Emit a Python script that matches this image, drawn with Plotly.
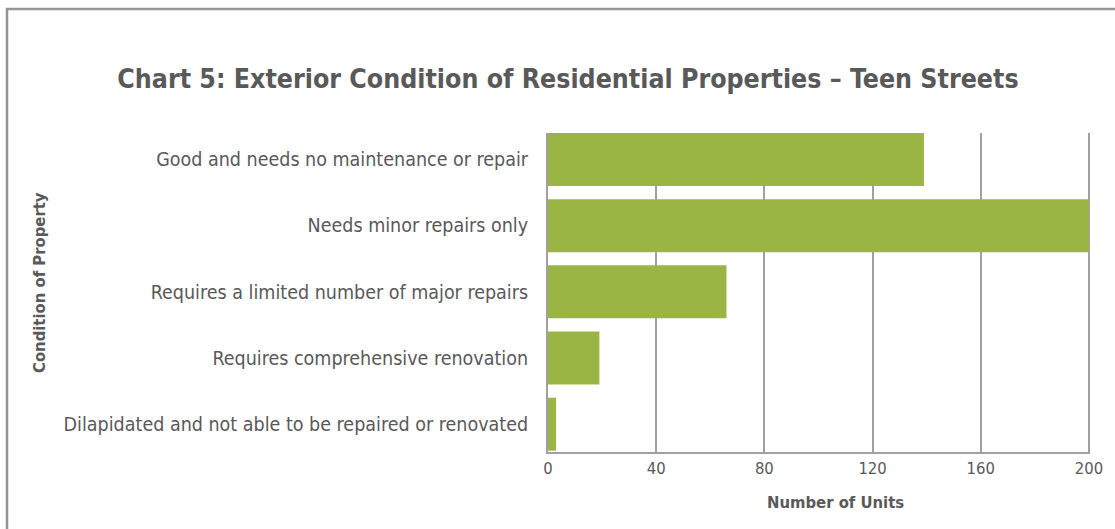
import plotly.graph_objects as go

# condition categories, top to bottom as shown
conditions = [
    "Good and needs no maintenance or repair",
    "Needs minor repairs only",
    "Requires a limited number of major repairs",
    "Requires comprehensive renovation",
    "Dilapidated and not able to be repaired or renovated",
]
units = [139, 200, 66, 19, 3]
x_ticks = [0, 40, 80, 120, 160, 200]

W, H = 1115, 529
green = "#9bb544"
grid = "#a0a0a4"
txt = "#595959"
narrow = "Liberation Sans Narrow, DejaVu Sans Condensed, Arial Narrow, sans-serif"


def px(x):
  return x / W


def py(y):
  return 1 - y / H


fig = go.Figure()
fig.add_trace(go.Bar(
  x=units, y=conditions, orientation="h",
  marker=dict(color=green, line=dict(width=0)),
  width=0.8,
))

fig.update_layout(
  width=W, height=H,
  margin=dict(l=0, r=0, t=0, b=0, autoexpand=False),
  paper_bgcolor="white", plot_bgcolor="white",
  showlegend=False,
  title=dict(
    text="<b>Chart 5: Exterior Condition of Residential Properties – Teen Streets</b>",
    x=px(568), y=py(79), xanchor="center", yanchor="middle",
    font=dict(family=narrow, size=26.5, color=txt),
  ),
  xaxis=dict(
    domain=[px(548), px(1090)], automargin=False,
    range=[0, 200.4], tickvals=x_ticks,
    showgrid=True, gridcolor=grid, gridwidth=2,
    showline=True, linecolor=grid, linewidth=2,
    zeroline=False, ticks="",
    tickfont=dict(family=narrow, size=16.5, color=txt),
  ),
  yaxis=dict(
    domain=[py(452), py(133)], automargin=False,
    type="category", categoryorder="array", categoryarray=conditions,
    range=[4.42, -0.4],
    showgrid=False,
    showline=True, linecolor=grid, linewidth=2,
    ticks="", ticklabelstandoff=14,
    tickfont=dict(family=narrow, size=19.5, color=txt),
  ),
)

# axis titles as annotations so they sit where the original has them
fig.add_annotation(text="<b>Number of Units</b>", xref="paper", yref="paper",
                   x=px(835), y=py(502), showarrow=False,
                   xanchor="center", yanchor="middle",
                   font=dict(family=narrow, size=16.5, color=txt))
fig.add_annotation(text="<b>Condition of Property</b>", xref="paper", yref="paper",
                   x=px(39), y=py(283), showarrow=False, textangle=-90,
                   xanchor="center", yanchor="middle",
                   font=dict(family=narrow, size=16.5, color=txt))

# outer frame of the chart box
fig.add_shape(type="rect", xref="paper", yref="paper",
              x0=px(7), x1=1.02, y0=-0.02, y1=py(9),
              line=dict(color="#949494", width=2.5))

fig.write_html("out.html", config={"displayModeBar": False},
               post_script="document.body.style.margin='0';document.body.style.overflow='hidden';")
